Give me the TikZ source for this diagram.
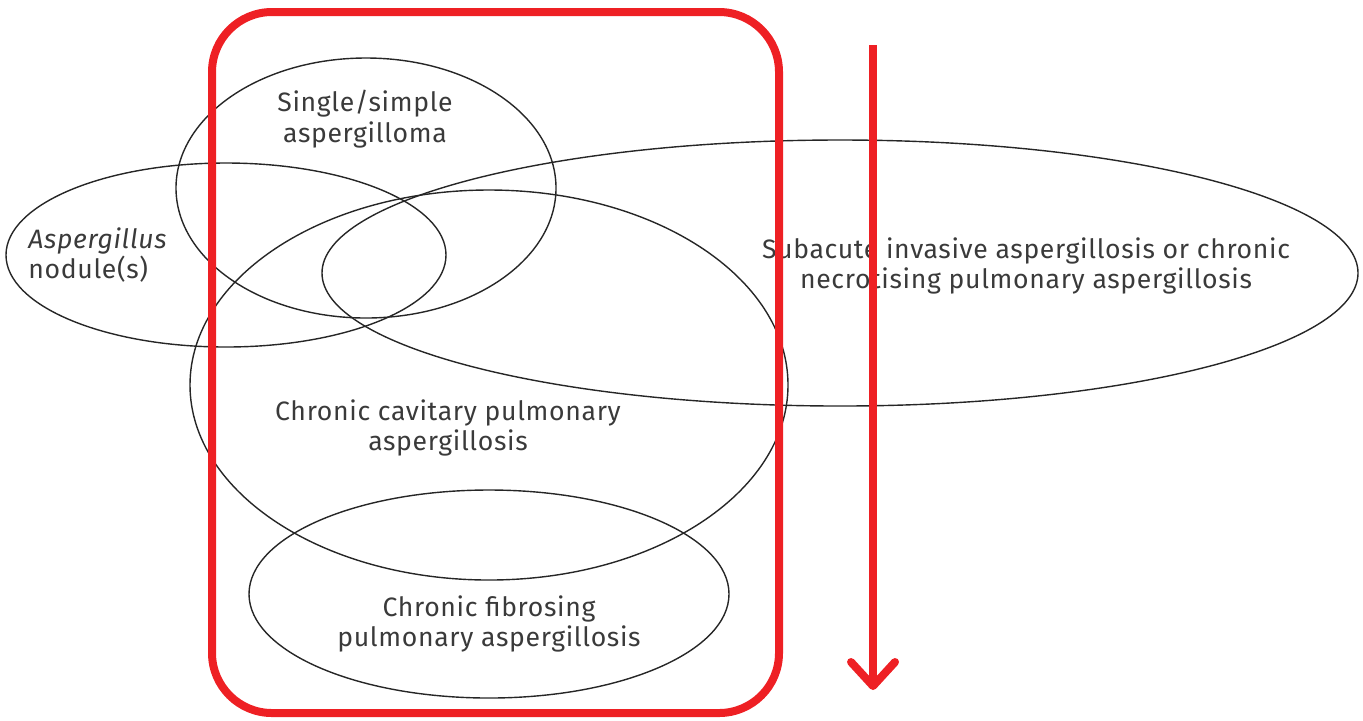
\documentclass[tikz,border=0pt]{standalone}
\usepackage{fontspec}
\setmainfont{Fira Sans}[LetterSpace=2.5]
\usetikzlibrary{shapes.geometric,arrows.meta}
\definecolor{redline}{HTML}{EE2024}
\definecolor{txt}{HTML}{3A3A3A}
\tikzset{
  oval/.style={draw=black!85, line width=0.7pt, ellipse, inner sep=0pt},
  lbl/.style={text=txt, font=\fontsize{13.3}{15.3}\selectfont, align=center, inner sep=0pt},
  frame/.style={draw=redline, line width=4pt, rounded corners=30pt},
  flow/.style={draw=redline, line width=4pt, -{Straight Barb[length=12pt, width=22pt, round]}}
}
\begin{document}
\begin{tikzpicture}[x=0.5pt,y=-0.5pt]
\useasboundingbox (0,0) rectangle (1363,720);
% ellipses
\node[oval, minimum width=190pt, minimum height=130pt] (sa) at (366,188) {};
\node[oval, minimum width=220pt, minimum height=92pt] (an) at (226,255) {};
\node[oval, minimum width=518pt, minimum height=133pt] (si) at (840,273) {};
\node[oval, minimum width=299pt, minimum height=195pt] (cc) at (489,385) {};
\node[oval, minimum width=240pt, minimum height=104pt] (cf) at (489,594) {};
% labels
\node[lbl] (tsa) at (365,119) {Single/simple\\aspergilloma};
\node[lbl, align=left, anchor=west] (tan) at (28,255) {\textit{Aspergillus}\\nodule(s)};
\node[lbl] (tsi) at (1026,266) {Subacute invasive aspergillosis or chronic\\necrotising pulmonary aspergillosis};
\node[lbl] (tcc) at (448,428) {Chronic cavitary pulmonary\\aspergillosis};
\node[lbl] (tcf) at (489,624) {Chronic fibrosing\\pulmonary aspergillosis};
% red frame and arrow
\draw[frame] (212,12) rectangle (779,713);
\coordinate (a0) at (873,45);
\coordinate (a1) at (873,690);
\draw[flow] (a0) -- (a1);
\end{tikzpicture}
\end{document}
